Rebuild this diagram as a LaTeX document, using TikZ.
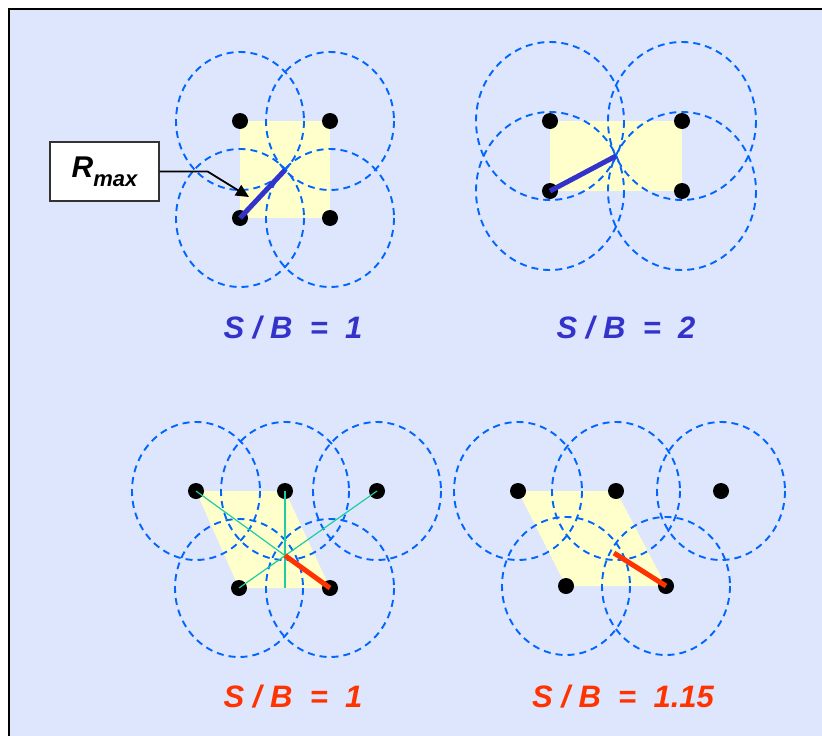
\documentclass[tikz,border=0pt]{standalone}
\usepackage{fontspec}
\setmainfont{Liberation Sans}
\usetikzlibrary{arrows.meta}
\definecolor{panelbg}{RGB}{221,230,252}
\definecolor{cellyellow}{RGB}{255,255,204}
\definecolor{rangeblue}{RGB}{0,102,255}
\definecolor{sbblue}{RGB}{51,51,204}
\definecolor{sbred}{RGB}{255,51,0}
\definecolor{guidegreen}{RGB}{30,205,160}
\begin{document}
\begin{tikzpicture}[x=1pt, y=-1pt,
   dot/.style={circle, fill=black, inner sep=0pt, minimum size=16pt},
   cover/.style={draw=rangeblue, line width=1.9pt, dash pattern=on 7pt off 5pt},
   cell/.style={fill=cellyellow},
   rline/.style={line width=5pt},
   guide/.style={draw=guidegreen, line width=1.2pt},
   sblabel/.style={anchor=base, font=\fontsize{31}{33}\selectfont\bfseries\itshape},
   labelbox/.style={draw=black!80, fill=white, line width=1.2pt,
         minimum width=109pt, minimum height=59pt, inner sep=0pt},
   arr/.style={-{Triangle[length=13pt, width=12pt]}, line width=1.8pt},
  ]
  \useasboundingbox (0,0) rectangle (822,736);
  \clip (0,0) rectangle (822,736);
  \draw[fill=panelbg, line width=2.5pt] (9,9) rectangle (850,760);

  % S/B = 1, square
  \coordinate (a1) at (240,121); \coordinate (a2) at (330,121);
  \coordinate (a3) at (240,218); \coordinate (a4) at (330,218);
  \coordinate (ma) at (285,170);
  \fill[cell] (a1) rectangle (a4);
  \foreach \p in {a1,a2,a3,a4}
    \draw[cover] (\p) ellipse [x radius=64, y radius=69];
  \foreach \p in {a1,a2,a3,a4}
    \node[dot] (d\p) at (\p) {};
  \draw[rline, draw=sbblue] (da3.center) -- (ma);

  \node[labelbox] (rmax) at (104.5,171.5)
    {\fontsize{30}{31}\selectfont\bfseries\itshape R\raisebox{-0.3em}{\fontsize{22}{23}\selectfont max}};
  \coordinate (tipa) at (249,197);
  \draw[arr] (rmax.east) -- ++(48,0) -- (tipa);

  % S/B = 2, rectangle
  \coordinate (b1) at (550,121); \coordinate (b2) at (682,121);
  \coordinate (b3) at (550,191); \coordinate (b4) at (682,191);
  \coordinate (mb) at (616,156);
  \fill[cell] (b1) rectangle (b4);
  \foreach \p in {b1,b2,b3,b4}
    \draw[cover] (\p) ellipse [x radius=74, y radius=79];
  \foreach \p in {b1,b2,b3,b4}
    \node[dot] (d\p) at (\p) {};
  \draw[rline, draw=sbblue] (db3.center) -- (mb);

  % S/B = 1, hexagonal
  \coordinate (c1) at (196,491); \coordinate (c2) at (285,491);
  \coordinate (c3) at (377,491); \coordinate (c4) at (239,588);
  \coordinate (c5) at (330,588);
  \coordinate (mc) at (285,555.5);
  \fill[cell] (c1) -- (c2) -- (c5) -- (c4) -- cycle;
  \foreach \p in {c1,c2,c3,c4,c5}
    \draw[cover] (\p) ellipse [x radius=64, y radius=69];
  \foreach \p in {c1,c2,c3,c4,c5}
    \node[dot] (d\p) at (\p) {};
  \draw[guide] (dc1.center) -- (mc);
  \draw[guide] (dc3.center) -- (dc4.center);
  \draw[guide] (dc2.center) -- (dc2 |- dc4);
  \draw[rline, draw=sbred] (mc) -- (dc5.center);

  % S/B = 1.15
  \coordinate (e1) at (518,491); \coordinate (e2) at (616,491);
  \coordinate (e3) at (721,491); \coordinate (e4) at (566,586);
  \coordinate (e5) at (666,586);
  \coordinate (me) at (614,553);
  \fill[cell] (e1) -- (e2) -- (e5) -- (e4) -- cycle;
  \foreach \p in {e1,e2,e3,e4,e5}
    \draw[cover] (\p) ellipse [x radius=64, y radius=69];
  \foreach \p in {e1,e2,e3,e4,e5}
    \node[dot] (d\p) at (\p) {};
  \draw[rline, draw=sbred] (me) -- (de5.center);

  \node[sblabel, text=sbblue] (sba) at (293,338) {S / B\ \ =\ \ 1};
  \node[sblabel, text=sbblue] (sbb) at (626,338) {S / B\ \ =\ \ 2};
  \node[sblabel, text=sbred] (sbc) at (293,707) {S / B\ \ =\ \ 1};
  \node[sblabel, text=sbred] (sbe) at (623,707) {S / B\ \ =\ \ 1.15};
\end{tikzpicture}
\end{document}
